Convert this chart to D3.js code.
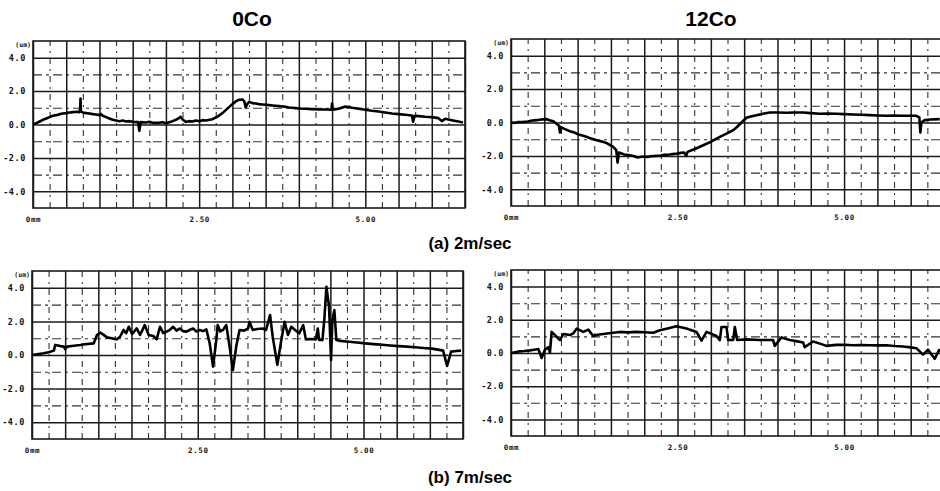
<!DOCTYPE html>
<html>
<head>
<meta charset="utf-8">
<script src="https://cdn.jsdelivr.net/npm/d3@7"></script>
<style>
  html, body { margin: 0; padding: 0; background: #fff; }
  svg { display: block; }
</style>
</head>
<body>
<svg id="chart" width="940" height="491"></svg>
<script>
// ---------------- DATA ----------------
const columnTitles = ["0Co", "12Co"];
const rowCaptions = ["(a)  2m/sec", "(b)  7m/sec"];
const yTickValues = [4, 2, 0, -2, -4];
const yTickLabels = ["4.0", "2.0", "0.0", "-2.0", "-4.0"];
const xTickValues = [0, 2.5, 5];
const xTickLabels = ["0mm", "2.50", "5.00"];
const yUnitLabel = "(um)";

// surface profile, [distance (mm), height (um)]
const co0_2ms = [[0,0.0],[0.05,0.08],[0.1,0.18],[0.15,0.28],[0.2,0.36],[0.25,0.44],[0.3,0.52],[0.35,0.56],[0.4,0.62],[0.45,0.66],[0.5,0.68],[0.55,0.72],[0.6,0.74],[0.65,0.76],[0.7,0.74],[0.71,1.0],[0.715,1.56],[0.72,0.8],[0.75,0.72],[0.8,0.68],[0.85,0.66],[0.9,0.62],[0.95,0.6],[1.0,0.56],[1.02,0.64],[1.05,0.52],[1.1,0.44],[1.15,0.36],[1.2,0.28],[1.25,0.24],[1.3,0.2],[1.35,0.24],[1.4,0.18],[1.45,0.2],[1.5,0.16],[1.58,0.14],[1.6,-0.38],[1.62,0.14],[1.7,0.12],[1.75,0.16],[1.8,0.1],[1.9,0.1],[1.95,0.14],[2.0,0.08],[2.05,0.14],[2.1,0.2],[2.15,0.28],[2.2,0.4],[2.22,0.46],[2.25,0.3],[2.3,0.16],[2.35,0.2],[2.4,0.18],[2.45,0.24],[2.5,0.2],[2.55,0.26],[2.6,0.24],[2.7,0.32],[2.78,0.48],[2.85,0.68],[2.9,0.86],[2.95,1.04],[3.0,1.22],[3.05,1.38],[3.1,1.48],[3.15,1.5],[3.18,1.38],[3.2,1.02],[3.22,1.2],[3.25,1.36],[3.3,1.28],[3.35,1.26],[3.4,1.22],[3.45,1.2],[3.5,1.18],[3.55,1.16],[3.6,1.14],[3.65,1.12],[3.7,1.1],[3.75,1.08],[3.8,1.06],[3.85,1.02],[3.9,1.0],[3.95,0.98],[4.0,0.96],[4.1,0.94],[4.2,0.92],[4.3,0.9],[4.4,0.9],[4.49,0.88],[4.5,1.26],[4.51,0.88],[4.6,0.94],[4.7,1.08],[4.8,1.0],[4.9,0.94],[5.0,0.88],[5.1,0.82],[5.2,0.78],[5.3,0.72],[5.4,0.66],[5.5,0.62],[5.6,0.58],[5.7,0.54],[5.72,0.16],[5.74,0.52],[5.8,0.5],[5.9,0.46],[6.0,0.44],[6.1,0.38],[6.15,0.2],[6.2,0.34],[6.3,0.26],[6.4,0.18],[6.47,0.12]];

const co12_2ms = [[0,0],[0.05,-0.02],[0.1,0.02],[0.19,0.04],[0.25,0.06],[0.3,0.1],[0.385,0.14],[0.45,0.18],[0.535,0.2],[0.58,0.14],[0.635,0.08],[0.68,-0.06],[0.72,-0.2],[0.735,-0.6],[0.75,-0.28],[0.8,-0.38],[0.885,-0.52],[0.95,-0.6],[1.0,-0.7],[1.07,-0.78],[1.135,-0.86],[1.2,-0.96],[1.3,-1.08],[1.385,-1.16],[1.45,-1.26],[1.535,-1.46],[1.58,-1.66],[1.6,-2.4],[1.62,-1.8],[1.7,-1.92],[1.785,-1.96],[1.85,-2.02],[1.9,-2.1],[1.985,-2.04],[2.05,-2.06],[2.1,-2.02],[2.185,-2.0],[2.25,-1.98],[2.3,-1.94],[2.385,-1.92],[2.45,-1.88],[2.5,-1.86],[2.55,-1.82],[2.6,-1.8],[2.63,-2.0],[2.65,-1.76],[2.75,-1.6],[2.82,-1.48],[2.885,-1.36],[3.0,-1.16],[3.07,-1.0],[3.135,-0.86],[3.25,-0.64],[3.335,-0.46],[3.4,-0.24],[3.46,0.0],[3.535,0.28],[3.6,0.36],[3.67,0.42],[3.735,0.48],[3.8,0.54],[3.885,0.6],[4.0,0.6],[4.135,0.58],[4.25,0.6],[4.385,0.6],[4.5,0.56],[4.635,0.52],[4.75,0.54],[4.885,0.52],[5.0,0.5],[5.135,0.48],[5.25,0.46],[5.385,0.44],[5.5,0.42],[5.635,0.4],[5.75,0.42],[5.885,0.4],[6.0,0.4],[6.085,0.4],[6.13,0.3],[6.145,-0.6],[6.16,0.0],[6.21,0.14],[6.3,0.18],[6.435,0.2]];

const co0_7ms = [[0,0],[0.1,0.06],[0.175,0.1],[0.25,0.16],[0.33,0.26],[0.35,0.6],[0.43,0.53],[0.48,0.5],[0.5,0.34],[0.53,0.5],[0.6,0.54],[0.73,0.6],[0.8,0.64],[0.93,0.69],[0.98,1.19],[1.03,1.33],[1.08,1.2],[1.13,1.05],[1.2,1.0],[1.28,0.93],[1.33,1.1],[1.38,1.49],[1.42,1.3],[1.46,1.68],[1.51,1.25],[1.58,1.58],[1.63,1.19],[1.7,1.78],[1.76,1.19],[1.83,1.13],[1.88,0.93],[1.93,1.68],[1.98,1.3],[2.03,1.39],[2.08,1.5],[2.13,1.68],[2.18,1.45],[2.23,1.58],[2.28,1.42],[2.33,1.39],[2.38,1.5],[2.43,1.58],[2.48,1.4],[2.53,1.49],[2.58,1.42],[2.63,1.52],[2.68,0.69],[2.73,-0.69],[2.78,0.89],[2.8,1.78],[2.84,1.4],[2.88,1.49],[2.93,1.78],[2.98,0.5],[3.03,-0.89],[3.08,0.5],[3.13,1.49],[3.2,1.45],[3.26,1.58],[3.28,1.98],[3.33,1.49],[3.4,1.55],[3.48,1.58],[3.53,1.49],[3.59,2.38],[3.63,1.09],[3.7,-0.59],[3.76,0.89],[3.81,1.98],[3.86,1.19],[3.91,1.68],[3.98,1.45],[4.03,1.29],[4.09,1.78],[4.13,0.93],[4.2,0.95],[4.28,0.93],[4.31,1.58],[4.33,0.89],[4.38,0.89],[4.41,2.18],[4.44,4.06],[4.48,2.87],[4.51,-0.3],[4.53,2.08],[4.56,2.67],[4.59,0.89],[4.65,0.84],[4.78,0.79],[4.9,0.74],[5.03,0.69],[5.15,0.65],[5.28,0.61],[5.4,0.57],[5.53,0.53],[5.65,0.5],[5.78,0.46],[5.9,0.42],[6.03,0.38],[6.12,0.32],[6.2,0.26],[6.26,-0.65],[6.32,0.2],[6.4,0.24],[6.47,0.26]];

const co12_7ms = [[0,0],[0.135,0.1],[0.2,0.12],[0.285,0.16],[0.35,0.2],[0.41,0.24],[0.46,-0.3],[0.51,0.2],[0.56,0.35],[0.585,0.04],[0.61,1.27],[0.66,1.08],[0.735,0.78],[0.785,1.14],[0.885,1.08],[0.94,1.2],[0.985,1.47],[1.085,1.27],[1.16,1.41],[1.235,1.02],[1.3,1.1],[1.385,1.14],[1.5,1.2],[1.635,1.27],[1.75,1.24],[1.885,1.27],[2.0,1.25],[2.135,1.22],[2.235,1.37],[2.35,1.48],[2.485,1.61],[2.635,1.47],[2.785,1.27],[2.86,0.75],[2.935,1.27],[3.085,1.02],[3.135,0.78],[3.16,1.57],[3.235,1.57],[3.26,0.78],[3.335,0.78],[3.36,1.57],[3.395,0.78],[3.535,0.82],[3.735,0.78],[3.935,0.78],[3.96,0.43],[4.06,0.94],[4.185,0.78],[4.3,0.7],[4.385,0.63],[4.41,0.35],[4.535,0.69],[4.65,0.55],[4.735,0.43],[4.885,0.49],[5.0,0.5],[5.135,0.47],[5.25,0.48],[5.385,0.47],[5.5,0.46],[5.635,0.47],[5.75,0.42],[5.885,0.39],[6.0,0.34],[6.085,0.29],[6.185,-0.1],[6.26,0.2],[6.36,-0.35],[6.435,0.24]];

const xDomain = [0, 6.5];
const yDomain = [-5, 5];

// ---------------- LAYOUT ----------------
const svg = d3.select("#chart");
const panels = [
  { data: co0_2ms,  x0: 33,  top: 41,  w: 432, h: 167 },
  { data: co12_2ms, x0: 511, top: 39,  w: 433, h: 167 },
  { data: co0_7ms,  x0: 32,  top: 271, w: 431, h: 168 },
  { data: co12_7ms, x0: 511, top: 270, w: 433, h: 166 }
];

const monoFont = "'DejaVu Sans Mono', 'Liberation Mono', monospace";
const gridColor = "#1a1a1a";

panels.forEach((p, i) => {
  const x = d3.scaleLinear().domain(xDomain).range([p.x0, p.x0 + p.w]);
  const y = d3.scaleLinear().domain(yDomain).range([p.top + p.h, p.top]);
  const g = svg.append("g");

  const solidX = d3.range(0, 6.5001, 0.5);
  const dashX = d3.range(0.25, 6.5, 0.5);
  const solidY = [-4, -2, 0, 2, 4];
  const dashY = [-3, -1, 1, 3];

  // dashed grid
  g.append("g").attr("transform", `translate(0,${p.top + p.h})`)
    .call(d3.axisBottom(x).tickValues(dashX).tickSize(-p.h).tickFormat(""))
    .call(s => s.select(".domain").remove())
    .call(s => s.selectAll("line").attr("stroke", "#333").attr("stroke-width", 1.1)
      .attr("stroke-dasharray", "6,5,2,5"));
  g.append("g").attr("transform", `translate(${p.x0},0)`)
    .call(d3.axisLeft(y).tickValues(dashY).tickSize(-p.w).tickFormat(""))
    .call(s => s.select(".domain").remove())
    .call(s => s.selectAll("line").attr("stroke", "#333").attr("stroke-width", 1.1)
      .attr("stroke-dasharray", "9,4,3,4"));

  // solid grid
  g.append("g").attr("transform", `translate(0,${p.top + p.h})`)
    .call(d3.axisBottom(x).tickValues(solidX).tickSize(-p.h).tickFormat(""))
    .call(s => s.select(".domain").remove())
    .call(s => s.selectAll("line").attr("stroke", gridColor).attr("stroke-width", 1.5));
  g.append("g").attr("transform", `translate(${p.x0},0)`)
    .call(d3.axisLeft(y).tickValues(solidY).tickSize(-p.w).tickFormat(""))
    .call(s => s.select(".domain").remove())
    .call(s => s.selectAll("line").attr("stroke", gridColor).attr("stroke-width", 1.5));

  // frame
  g.append("rect").attr("x", p.x0).attr("y", p.top).attr("width", p.w).attr("height", p.h)
    .attr("fill", "none").attr("stroke", gridColor).attr("stroke-width", 1.6);

  // y tick labels
  g.append("g").attr("transform", `translate(${p.x0 - 4},0)`)
    .call(d3.axisLeft(y).tickValues(yTickValues).tickSize(0)
      .tickFormat(d => yTickLabels[yTickValues.indexOf(d)]))
    .call(s => s.select(".domain").remove())
    .call(s => s.selectAll("text").attr("font-family", monoFont).attr("font-size", 8.5)
      .attr("font-weight", "bold").attr("fill", "#111").attr("letter-spacing", 0.6));

  // unit label
  g.append("text").attr("x", p.x0 - 2).attr("y", p.top + 6).attr("text-anchor", "end")
    .attr("font-family", monoFont).attr("font-size", 6.5).attr("font-weight", "bold")
    .attr("fill", "#111").text(yUnitLabel);

  // x tick labels
  g.append("g").attr("transform", `translate(0,${p.top + p.h + 6})`)
    .call(d3.axisBottom(x).tickValues(xTickValues).tickSize(0)
      .tickFormat(d => xTickLabels[xTickValues.indexOf(d)]))
    .call(s => s.select(".domain").remove())
    .call(s => s.selectAll("text").attr("font-family", monoFont).attr("font-size", 7.5)
      .attr("font-weight", "bold").attr("fill", "#111").attr("letter-spacing", 0.6));

  // clip + profile line
  const clipId = "clip" + i;
  svg.append("clipPath").attr("id", clipId).append("rect")
    .attr("x", p.x0).attr("y", p.top).attr("width", p.w).attr("height", p.h);
  const line = d3.line().x(d => x(d[0])).y(d => y(d[1]));
  g.append("path").datum(p.data).attr("clip-path", `url(#${clipId})`)
    .attr("d", line).attr("fill", "none").attr("stroke", "#000")
    .attr("stroke-width", 2.6).attr("stroke-linejoin", "round");
});

// column titles
const titleFont = "'Liberation Sans', Arial, sans-serif";
svg.append("text").attr("x", 252).attr("y", 26).attr("text-anchor", "middle")
  .attr("font-family", titleFont).attr("font-weight", "bold").attr("font-size", 21)
  .text(columnTitles[0]);
svg.append("text").attr("x", 711).attr("y", 26).attr("text-anchor", "middle")
  .attr("font-family", titleFont).attr("font-weight", "bold").attr("font-size", 21)
  .text(columnTitles[1]);

// row captions
svg.append("text").attr("x", 470).attr("y", 249).attr("text-anchor", "middle")
  .attr("font-family", titleFont).attr("font-weight", "bold").attr("font-size", 17)
  .text(rowCaptions[0]);
svg.append("text").attr("x", 470).attr("y", 483).attr("text-anchor", "middle")
  .attr("font-family", titleFont).attr("font-weight", "bold").attr("font-size", 17)
  .text(rowCaptions[1]);
</script>
</body>
</html>
